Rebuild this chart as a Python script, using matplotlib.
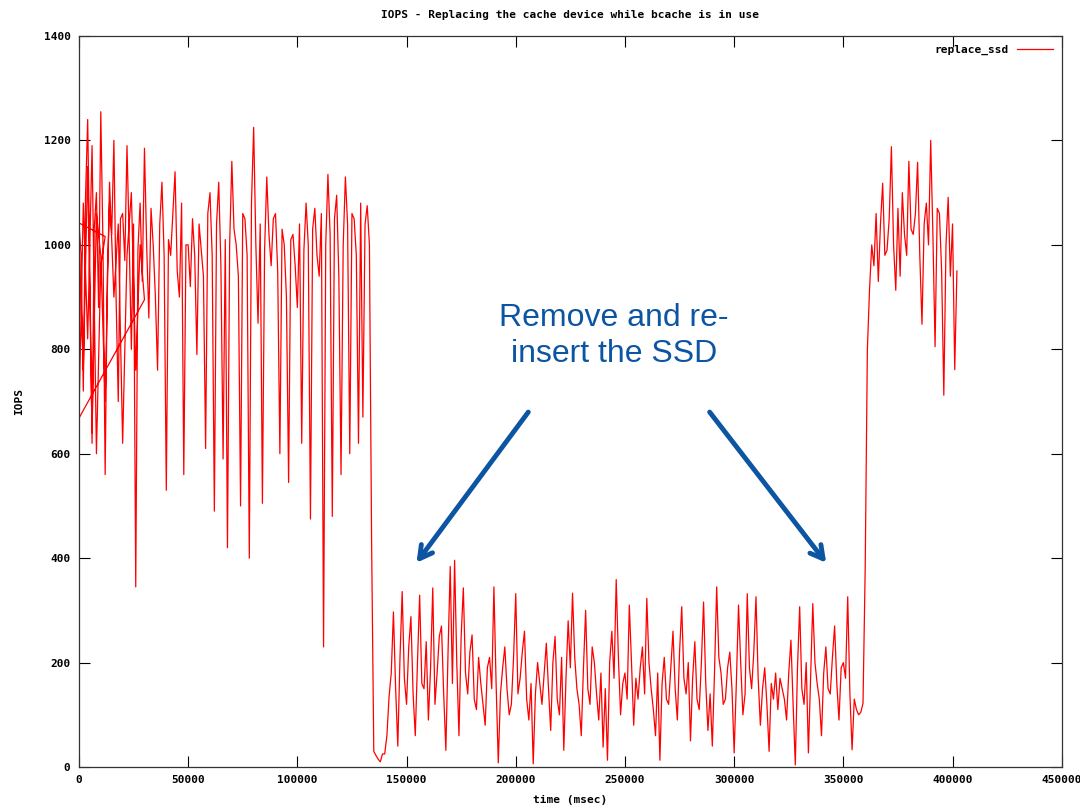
import numpy as np
import matplotlib.pyplot as plt

# first short run (restarted log), 0..30000 msec
time_a = np.arange(0, 32000, 2000)
iops_a = [1010, 760, 1150, 640, 1060, 980, 700, 1120, 900, 1040, 620, 980, 1100, 760, 1000, 895]

# second short run, 0..12000 msec
time_b = np.arange(0, 14000, 2000)
iops_b = [668, 1080, 820, 1190, 600, 960, 1016]

# main run, one sample per second, 0..402000 msec
time_c = np.arange(0, 403000, 1000)
iops_c = [
    1042, 980, 720, 1090, 1240, 950, 620, 1030, 1100, 880,
    1255, 1000, 560, 940, 1080, 1020, 1200, 900, 700, 1050,
    1060, 970, 1190, 1010, 800, 1040, 345, 990, 1080, 930,
    1185, 1000, 860, 1070, 1000, 900, 760, 1040, 1120, 980,
    530, 1010, 980, 1060, 1140, 950, 900, 1080, 560, 1000,
    1000, 920, 1050, 980, 790, 1040, 990, 940, 610, 1060,
    1100, 980, 490, 1040, 1120, 960, 590, 1010, 420, 1000,
    1160, 1030, 1000, 940, 500, 1060, 1050, 980, 400, 1080,
    1225, 1000, 850, 1040, 505, 990, 1130, 1020, 960, 1050,
    1060, 950, 600, 1030, 1000, 900, 545, 1010, 1020, 960,
    880, 1040, 620, 990, 1080, 1000, 475, 1030, 1070, 980,
    940, 1060, 230, 1000, 1135, 1020, 480, 1050, 1095, 940,
    560, 1000, 1130, 1040, 600, 1060, 1050, 980, 620, 1080,
    670, 1040, 1075, 1000, 430, 30, 22, 15, 10, 25,
    25, 60, 135, 180, 297, 150, 40, 210, 336, 170,
    120, 230, 288, 140, 60, 200, 329, 160, 150, 240,
    90, 190, 343, 120, 180, 250, 270, 140, 32, 220,
    384, 160, 396, 200, 60, 250, 343, 180, 140, 220,
    253, 130, 110, 210, 160, 120, 80, 190, 210, 150,
    345, 160, 8, 140, 190, 230, 150, 100, 120, 210,
    332, 140, 170, 220, 260, 130, 90, 160, 6, 140,
    200, 160, 120, 180, 237, 150, 70, 200, 250, 130,
    100, 210, 32, 170, 280, 190, 333, 210, 150, 120,
    60, 190, 300, 150, 120, 230, 200, 140, 90, 180,
    38, 150, 13, 200, 260, 170, 359, 210, 100, 160,
    180, 130, 310, 200, 80, 170, 130, 190, 230, 140,
    323, 200, 150, 110, 60, 180, 13, 160, 210, 130,
    120, 190, 260, 150, 90, 220, 307, 170, 140, 200,
    50, 170, 240, 130, 110, 200, 316, 160, 70, 140,
    40, 180, 345, 210, 180, 120, 130, 190, 220, 150,
    27, 160, 310, 200, 100, 140, 332, 190, 150, 220,
    326, 170, 80, 150, 190, 120, 30, 160, 130, 180,
    110, 170, 150, 130, 90, 180, 243, 120, 4, 190,
    307, 150, 120, 200, 27, 170, 313, 200, 160, 130,
    60, 180, 230, 150, 140, 210, 270, 160, 90, 190,
    200, 170, 326, 140, 33, 130, 110, 100, 105, 122,
    380, 800, 915, 1000, 960, 1060, 930, 1040, 1118, 980,
    990, 1050, 1188, 1000, 913, 1070, 940, 1100, 1020, 980,
    1160, 1030, 1020, 1060, 1158, 980, 848, 1040, 1080, 1000,
    1200, 1020, 805, 1070, 1060, 950, 712, 1000, 1091, 940,
    1040, 761, 950,
]

time_all = np.concatenate([time_a, time_b, time_c])
iops_all = np.concatenate([iops_a, iops_b, iops_c])

mono = 'DejaVu Sans Mono'

fig = plt.figure(figsize=(10.8, 8.09), dpi=100)
ax = fig.add_axes([0.0731, 0.0519, 0.910, 0.9036])

ax.plot(time_all, iops_all, color='red', linewidth=0.9, label='replace_ssd')

ax.set_xlim(0, 450000)
ax.set_ylim(0, 1400)
ax.set_xticks(np.arange(0, 450001, 50000))
ax.set_yticks(np.arange(0, 1401, 200))
ax.tick_params(direction='in', length=8, width=0.8, top=True, right=True,
               labelsize=8, pad=6)
for lab in ax.get_xticklabels() + ax.get_yticklabels():
    lab.set_fontfamily(mono)
    lab.set_fontweight('bold')
for sp in ax.spines.values():
    sp.set_linewidth(0.9)
    sp.set_color('#333333')

ax.set_title('IOPS - Replacing the cache device while bcache is in use',
             fontfamily=mono, fontweight='bold', fontsize=8, pad=13)
ax.set_xlabel('time (msec)', fontfamily=mono, fontweight='bold', fontsize=8, labelpad=7)
ax.set_ylabel('IOPS', fontfamily=mono, fontweight='bold', fontsize=8, labelpad=14)

leg = ax.legend(loc='upper right', frameon=False, markerfirst=False,
                prop={'family': mono, 'weight': 'bold', 'size': 8},
                handlelength=3.2, borderaxespad=0.4)

blue = '#0B55A2'
ax.text(245000, 825, 'Remove and re-\ninsert the SSD', color=blue, fontsize=23,
        fontfamily='Liberation Sans', ha='center', va='center', linespacing=1.25)
arrow = dict(arrowstyle='->,head_length=0.9,head_width=0.5', color=blue, lw=3.5)
ax.annotate('', xy=(153800, 387), xytext=(206500, 684), arrowprops=arrow)
ax.annotate('', xy=(342900, 387), xytext=(288000, 684), arrowprops=arrow)

fig.savefig('out.png', dpi=100)
